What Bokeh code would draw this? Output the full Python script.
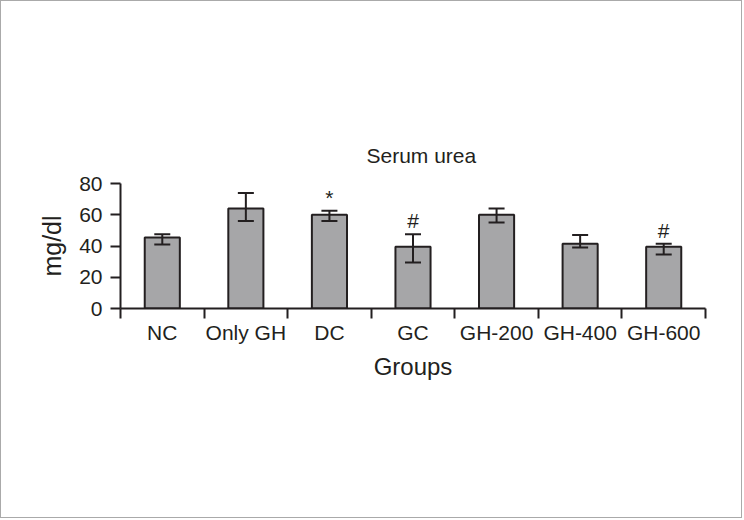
from bokeh.plotting import figure
from bokeh.models import ColumnDataSource, FixedTicker, Whisker, TeeHead, Range1d
from bokeh.core.properties import value
from bokeh.embed import file_html
from bokeh.resources import INLINE

groups = ["NC", "Only GH", "DC", "GC", "GH-200", "GH-400", "GH-600"]
means = [45.5, 64.0, 60.0, 39.5, 60.0, 41.5, 39.5]
err_upper = [47.5, 74.0, 62.5, 47.5, 64.0, 47.0, 41.5]
err_lower = [41.0, 56.0, 56.0, 29.5, 55.0, 39.0, 34.5]
marks = ["", "", "*", "#", "", "", "#"]
y_ticks = [0, 20, 40, 60, 80]

pos = list(range(1, len(groups) + 1))
bounds = [p_ - 0.5 for p_ in pos] + [pos[-1] + 0.5]

src = ColumnDataSource(dict(x=pos, top=means, upper=err_upper, lower=err_lower, mark=marks))

FONT = "Liberation Sans"
TXT = "#231f20"

p = figure(width=742, height=518, output_backend="svg", toolbar_location=None,
           x_range=Range1d(0.5, len(groups) + 0.5), y_range=Range1d(0, 80),
           min_border_left=119, min_border_right=38, min_border_top=182, min_border_bottom=211,
           title="Serum urea")
p.styles = {"border": "1px solid #aaaaaa"}
p.background_fill_color = "white"
p.border_fill_color = "white"
p.outline_line_color = None
p.grid.grid_line_color = None

p.title.align = "left"
p.title.offset = 246
p.title.text_font = FONT
p.title.text_font_size = "21px"
p.title.text_font_style = "normal"
p.title.text_color = TXT
p.title.standoff = 34

p.vbar(x="x", top="top", width=0.42, bottom=0, source=src,
       fill_color="#a6a6a8", line_color=TXT, line_width=2)

w = Whisker(base="x", upper="upper", lower="lower", source=src, level="overlay",
            line_color=TXT, line_width=2,
            upper_head=TeeHead(size=16, line_color=TXT, line_width=2),
            lower_head=TeeHead(size=16, line_color=TXT, line_width=2))
p.add_layout(w)

p.text(x="x", y="upper", text="mark", source=src, text_align="center",
       text_baseline="bottom", y_offset=-2, text_font=value(FONT),
       text_font_size="21px", text_color=TXT)

xa = p.xaxis[0]
xa.ticker = FixedTicker(ticks=pos, minor_ticks=bounds)
xa.major_label_overrides = {float(k): v for k, v in zip(pos, groups)}
xa.major_tick_out = 0
xa.major_tick_in = 0
xa.minor_tick_out = 10
xa.minor_tick_in = 0
xa.minor_tick_line_width = 2
xa.minor_tick_line_color = TXT
xa.axis_line_width = 2
xa.axis_line_color = TXT
xa.major_label_text_font = FONT
xa.major_label_text_font_size = "21px"
xa.major_label_text_color = TXT
xa.major_label_standoff = 2
xa.axis_label = "Groups"
xa.axis_label_text_font = FONT
xa.axis_label_text_font_size = "24px"
xa.axis_label_text_font_style = "normal"
xa.axis_label_text_color = TXT
xa.axis_label_standoff = 6

ya = p.yaxis[0]
ya.ticker = FixedTicker(ticks=y_ticks)
ya.major_tick_out = 10
ya.major_tick_in = 0
ya.major_tick_line_width = 2
ya.major_tick_line_color = TXT
ya.minor_tick_line_color = None
ya.axis_line_width = 2
ya.axis_line_color = TXT
ya.major_label_text_font = FONT
ya.major_label_text_font_size = "21px"
ya.major_label_text_color = TXT
ya.major_label_standoff = 8
ya.axis_label = "mg/dl"
ya.axis_label_text_font = FONT
ya.axis_label_text_font_size = "25px"
ya.axis_label_text_font_style = "normal"
ya.axis_label_text_color = TXT
ya.axis_label_standoff = 10

open("out.html", "w").write(file_html(p, INLINE))
